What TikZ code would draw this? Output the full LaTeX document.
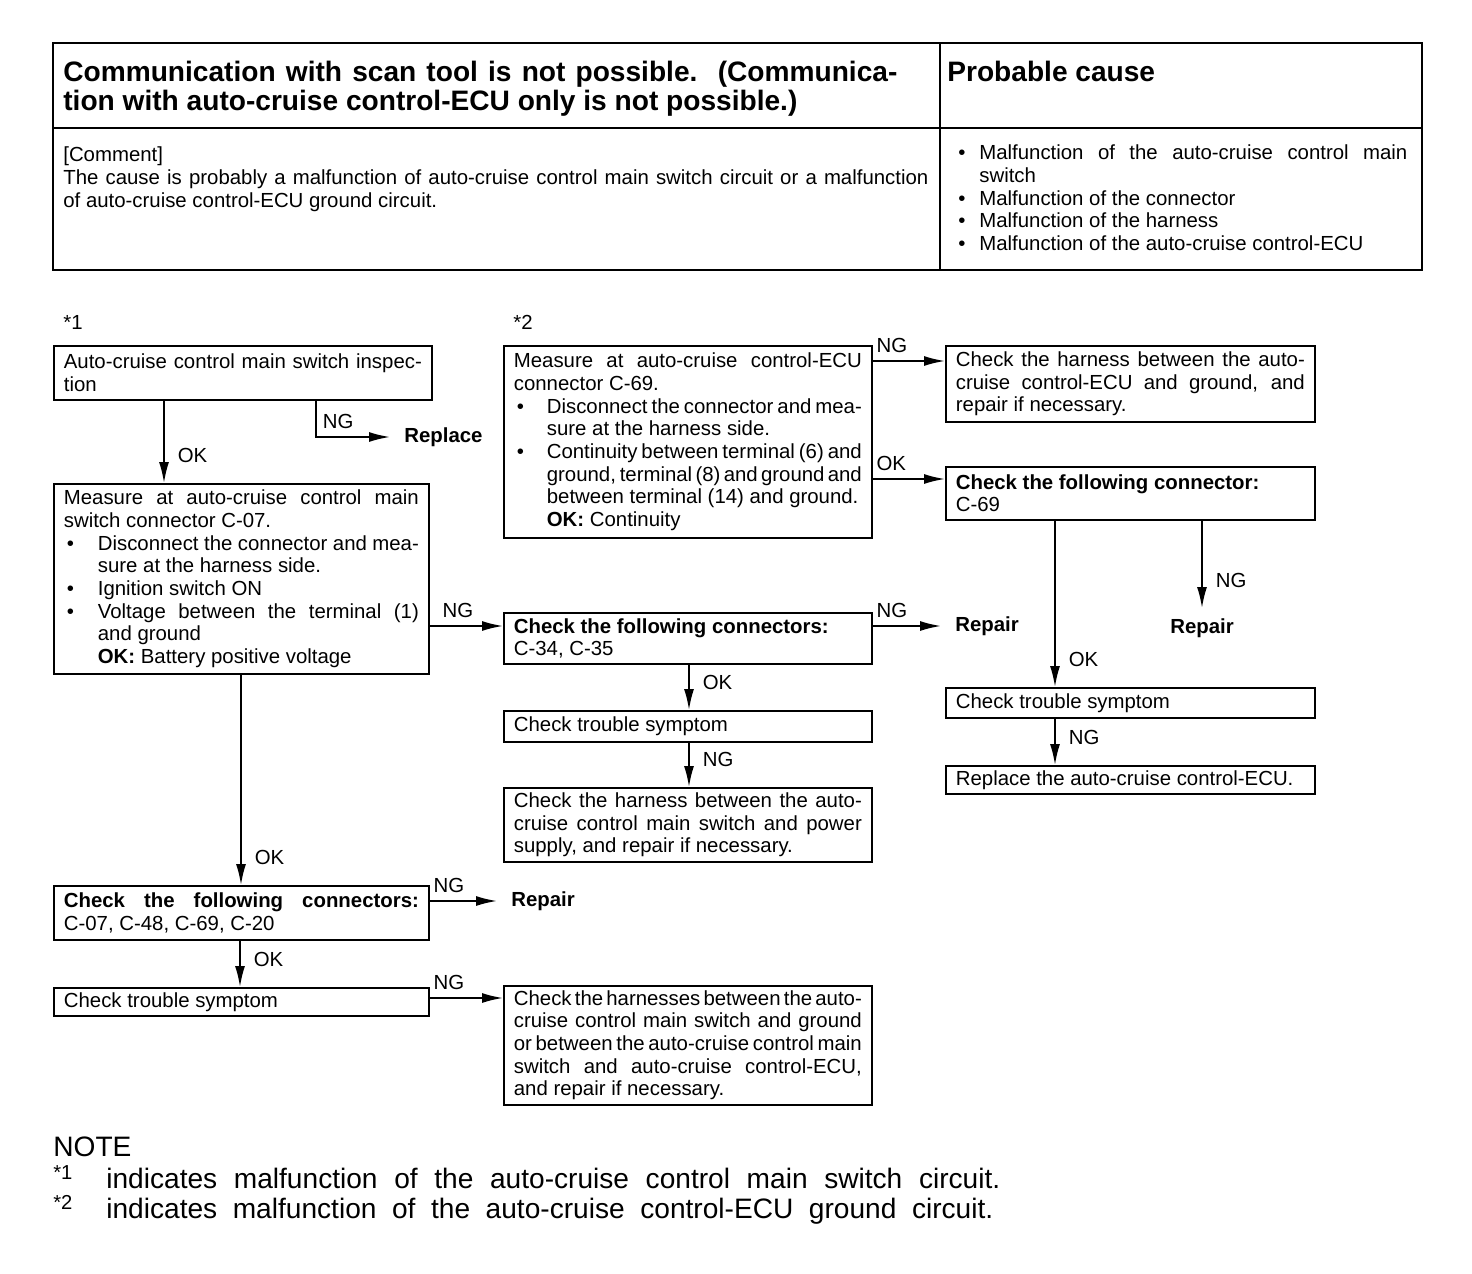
\documentclass[tikz,border=0pt]{standalone}
\usepackage{fontspec}
\setmainfont{Liberation Sans}
\usepackage{tikz}
\usetikzlibrary{arrows.meta}
\usetikzlibrary{positioning}
\usetikzlibrary{calc}
\newlength{\px}
\setlength{\px}{0.02cm}
\newcommand{\body}{\fontsize{11.6}{12.9}\selectfont\spaceskip=.278em plus .2em minus .15em\parindent=0pt\hyphenpenalty=10000\exhyphenpenalty=10000\hbadness=10000}
\newcommand{\bigdot}{\textbullet}
\newcommand{\bhang}[1][34]{\noindent\hangindent=#1\px\hangafter=1\makebox[#1\px][l]{\hspace{3\px}\bigdot}}
\newcommand{\bitem}[1][34]{\par\bhang[#1]}
\tikzstyle{box}=[rectangle,draw,line width=1pt,anchor=north west,inner xsep=10\px,inner ysep=0pt,align=justify,font=\body]
\tikzstyle{edge}=[draw,line width=1pt,-{Latex[length=4.2mm,width=2mm]}]
\tikzstyle{hlabel}=[font=\body,anchor=south west,inner xsep=3\px,inner ysep=7\px]
\tikzstyle{vlabel}=[font=\body,anchor=west,xshift=13\px,yshift=28\px,inner sep=0pt]
\tikzstyle{result}=[font=\body\bfseries,inner xsep=14\px,inner ysep=10\px]
\tikzstyle{plain}=[font=\body,anchor=base west,inner sep=0pt,align=justify]
\tikzstyle{note}=[font=\fontsize{16}{17}\selectfont,anchor=base west,inner sep=0pt]

\begin{document}
\begin{tikzpicture}[x=0.02cm,y=-0.02cm]
\useasboundingbox (0,0) rectangle (1472,1274);

 %header table
 \draw[line width=1.2pt] (53,43) rectangle (1422,270);
 \draw[line width=1.2pt] (940,43) -- (940,270);
 \draw[line width=1.2pt] (53,128) -- (1422,128);

 \node[plain, text width=834\px, font=\fontsize{16}{16.4}\selectfont\bfseries] (title) at (63,82)
   {Communication with scan tool is not possible.\ \ (Communica-\linebreak tion with auto-cruise control-ECU only is not possible.)};
 \node[plain, font=\fontsize{16}{16.4}\selectfont\bfseries] (cause) at (947,82) {Probable cause};
 \node[plain, text width=865\px] (comment) at (63,162)
   {[Comment]\\ The cause is probably a malfunction of auto-cruise control main switch circuit or a malfunction\linebreak of auto-cruise control-ECU ground circuit.};
 \node[plain, text width=452\px] (causes) at (955,160)
   {\bhang[24]Malfunction of the auto-cruise control main\linebreak switch
    \bitem[24]Malfunction of the connector
    \bitem[24]Malfunction of the harness
    \bitem[24]Malfunction of the auto-cruise control-ECU\par};

 %*1 branch
 \node[plain] (s1) at (63,329) {*1};
 \node[box, text width=358\px, minimum height=54\px] (A) at (53,345)
   {Auto-cruise control main switch inspec-\linebreak tion};
 \node[box, text width=355\px, minimum height=190\px] (B) at (53,483)
   {Measure at auto-cruise control main\linebreak switch connector C-07.
    \bitem Disconnect the connector and mea-\linebreak sure at the harness side.
    \bitem Ignition switch ON
    \bitem Voltage between the terminal (1)\linebreak and ground\\ \textbf{OK:} Battery positive voltage\par};
 \node[box, text width=348\px, minimum height=51\px] (C) at (503,612)
   {\textbf{Check the following connectors:}\\ C-34, C-35};
 \node[box, text width=348\px, minimum height=31\px] (D) at (503,710) {Check trouble symptom};
 \node[box, text width=348\px, minimum height=74\px] (E) at (503,787)
   {Check the harness between the auto-\linebreak cruise control main switch and power\linebreak supply, and repair if necessary.};
 \node[box, text width=355\px, minimum height=54\px] (F) at (53,885)
   {\textbf{Check the following connectors:\linebreak} C-07, C-48, C-69, C-20};
 \node[box, text width=355\px, minimum height=28\px] (G) at (53,987) {Check trouble symptom};
 \node[box, text width=348\px, minimum height=119\px] (H) at (503,985)
   {Check the harnesses between the auto-\linebreak cruise control main switch and ground\linebreak or between the auto-cruise control main\linebreak switch and auto-cruise control-ECU,\linebreak and repair if necessary.};

 %*2 branch
 \node[plain] (s2) at (513,329) {*2};
 \node[box, text width=348\px, minimum height=192\px] (I) at (503,345)
   {Measure at auto-cruise control-ECU\linebreak connector C-69.
    \bitem[33]Disconnect the connector and mea-\linebreak sure at the harness side.
    \bitem[33]Continuity between terminal (6) and\linebreak ground, terminal (8) and ground and\linebreak between terminal (14) and ground.\\ \textbf{OK:} Continuity\par};
 \node[box, text width=349\px, minimum height=76\px] (J) at (945,345)
   {Check the harness between the auto-\linebreak cruise control-ECU and ground, and\linebreak repair if necessary.};
 \node[box, text width=349\px, minimum height=53\px] (K) at (945,466)
   {\textbf{Check the following connector:}\\ C-69};
 \node[box, text width=349\px, minimum height=30\px] (L) at (945,687) {Check trouble symptom};
 \node[box, text width=349\px, minimum height=28\px] (M) at (945,765) {Replace the auto-cruise control-ECU.};

 %results
 \node[result, anchor=west] (rp0) at (390,437) {Replace};
 \node[result, anchor=west] (rp1) at (941,626) {Repair};
 \node[result, anchor=west] (rp2) at (497,901) {Repair};
 \node[result, anchor=north] (rp3) at (1202,608) {Repair};

 %connectors
 \foreach \source/\dest/\dx/\lab in {A/B/111/OK, B/F/188/OK, C/D/186/OK, D/E/186/NG, F/G/187/OK, K/L/110/OK, L/M/110/NG}
   \draw[edge] ($(\source.south west)+(\dx,0)$) -- ($(\dest.north west)+(\dx,0)$) node[vlabel] {\lab};

 \foreach \source/\sdy/\dest/\ddy/\lab/\sh in {B/143/C/14/NG/9, I/16/J/16/NG/0, I/134/K/13/OK/0, G/11/H/13/NG/0}
   \draw[edge] ($(\source.north east)+(0,\sdy)$) -- ($(\dest.north west)+(0,\ddy)$) node[hlabel,pos=0,xshift=\sh\px] {\lab};

 \foreach \source/\sdy/\dest in {C/14/rp1, F/16/rp2}
   \draw[edge] ($(\source.north east)+(0,\sdy)$) -- (\dest.west) node[hlabel,pos=0] {NG};

 \draw[edge] ($(A.south west)+(263,0)$) |- (rp0.west) node[hlabel,pos=0.5,xshift=3\px] {NG};
 \draw[edge] (rp3.north |- K.south) -- (rp3.north) node[vlabel] {NG};

 %note
 \node[note] (nt) at (53,1156) {NOTE};
 \node[note] (n1) at (53,1188)
   {\makebox[53\px][l]{\raisebox{5pt}{\fontsize{11.5}{11.5}\selectfont *1}}\hbox to 894\px{indicates malfunction of the auto-cruise control main switch circuit.}};
 \node[note] (n2) at (53,1218)
   {\makebox[53\px][l]{\raisebox{5pt}{\fontsize{11.5}{11.5}\selectfont *2}}\hbox to 887\px{indicates malfunction of the auto-cruise control-ECU ground circuit.}};

\end{tikzpicture}
\end{document}
